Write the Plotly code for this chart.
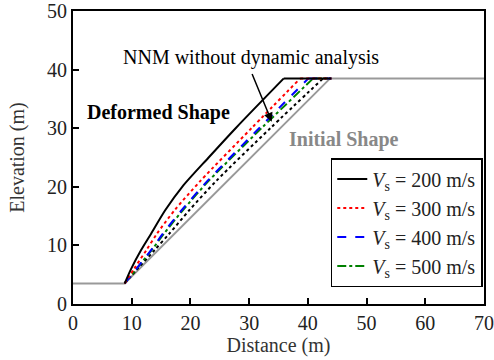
import plotly.graph_objects as go

# Initial slope geometry
init_x = [0, 8.8, 43.8, 70]
init_y = [3.5, 3.5, 38.5, 38.5]

# Deformed shapes: slope face up to the crest
vs200_x = [8.8, 9.9, 11.6, 13.3, 15.7, 18.6, 23.1, 27.7, 35.9]
vs200_y = [3.5, 6.0, 9.2, 12.0, 16.0, 20.0, 25.0, 30.0, 38.5]

vs300_x = [8.8, 10.4, 12.5, 14.3, 17.3, 21.7, 30.4, 38.7]
vs300_y = [3.5, 6.0, 9.2, 12.0, 16.0, 21.0, 30.0, 38.5]

vs400_x = [8.8, 10.8, 13.3, 15.3, 18.5, 22.9, 31.7, 40.1]
vs400_y = [3.5, 6.0, 9.2, 12.0, 16.0, 21.0, 30.0, 38.5]

vs500_x = [8.8, 10.8, 13.4, 15.5, 18.7, 23.1, 32.1, 40.9]
vs500_y = [3.5, 6.0, 9.2, 12.0, 16.0, 21.0, 30.0, 38.5]

nnm_x = [8.8, 11.0, 13.9, 16.4, 19.8, 24.4, 33.6, 42.6]
nnm_y = [3.5, 6.0, 9.2, 12.0, 16.0, 21.0, 30.0, 38.5]

# Crest plateau end of the deformed shapes
crest_end_x = 44.0
crest_y = 38.5

legend_names = ["<i>V</i><sub>s</sub> = 200 m/s", "<i>V</i><sub>s</sub> = 300 m/s",
                "<i>V</i><sub>s</sub> = 400 m/s", "<i>V</i><sub>s</sub> = 500 m/s"]

x_ticks = [0, 10, 20, 30, 40, 50, 60, 70]
y_ticks = [0, 10, 20, 30, 40, 50]

FONT = "Liberation Serif"

fig = go.Figure()
fig.add_trace(go.Scatter(x=init_x, y=init_y, mode="lines",
                         line=dict(color="#999999", width=2), showlegend=False))


def add_curve(xs, ys, color, dash, name=None, rank=None):
    style = dict(color=color, width=2, dash=dash)
    fig.add_trace(go.Scatter(x=[xs[-1], crest_end_x], y=[ys[-1], crest_y], mode="lines",
                             line=style, showlegend=False, hoverinfo="skip"))
    fig.add_trace(go.Scatter(x=xs, y=ys, mode="lines", line=dict(shape="spline", smoothing=0.8, **style),
                             name=name, showlegend=name is not None,
                             legendrank=rank if rank else 1000))


add_curve(nnm_x, nnm_y, "black", "dot")
add_curve(vs500_x, vs500_y, "#008000", "dashdot", legend_names[3], 4)
add_curve(vs400_x, vs400_y, "#0000ff", "dash", legend_names[2], 3)
add_curve(vs300_x, vs300_y, "#ff0000", "dot", legend_names[1], 2)
add_curve(vs200_x, vs200_y, "black", "solid", legend_names[0], 1)

fig.add_annotation(x=14.5, y=32.7, text="<b>Deformed Shape</b>", showarrow=False,
                   font=dict(family=FONT, size=20, color="black"))
fig.add_annotation(x=46.2, y=28.0, text="<b>Initial Shape</b>", showarrow=False,
                   font=dict(family=FONT, size=20, color="#888888"))
fig.add_annotation(x=30.3, y=42.0, text="NNM without dynamic analysis", showarrow=False,
                   font=dict(family=FONT, size=20, color="black"))
fig.add_annotation(x=33.85, y=31.1, ax=30.4, ay=39.5, axref="x", ayref="y",
                   text="", showarrow=True, arrowhead=2, arrowsize=1.2, arrowwidth=1.5,
                   arrowcolor="black")

axis_common = dict(showline=True, linecolor="black", linewidth=2, mirror=True,
                   ticks="inside", ticklen=6, tickwidth=2, tickcolor="black",
                   showgrid=False, zeroline=False, automargin=False,
                   tickfont=dict(family=FONT, size=20, color="#222222"),
                   title_font=dict(family=FONT, size=20, color="#333333"))

fig.update_xaxes(range=[0, 70], tickvals=x_ticks, title_text="Distance (m)",
                 title_standoff=3, **axis_common)
fig.update_yaxes(range=[0, 50], tickvals=y_ticks, title_text="Elevation (m)",
                 title_standoff=17, **axis_common)

fig.update_layout(
    width=494, height=360,
    margin=dict(l=73, r=10, t=11, b=56),
    plot_bgcolor="white", paper_bgcolor="white",
    legend=dict(x=0.997, xanchor="right", y=0.058, yanchor="bottom",
                bordercolor="black", borderwidth=1.5, bgcolor="white",
                font=dict(family=FONT, size=20, color="#222222"),
                traceorder="normal"),
)

fig.write_html("out.html")
